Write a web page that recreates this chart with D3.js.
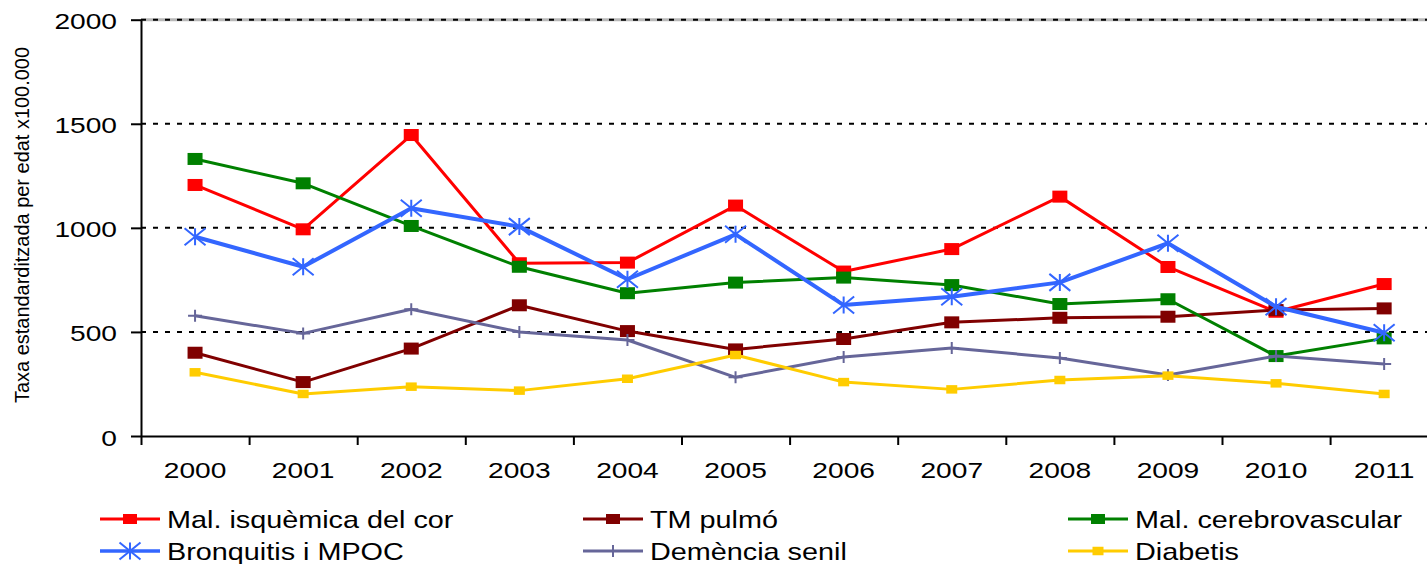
<!DOCTYPE html>
<html>
<head>
<meta charset="utf-8">
<script src="https://cdn.jsdelivr.net/npm/d3@7"></script>
<style>
  html, body { margin: 0; padding: 0; background: #fff; }
  svg { display: block; }
  text { font-family: "Liberation Sans", Arial, sans-serif; fill: #000; }
</style>
</head>
<body>
<svg id="chart" width="1427" height="564"></svg>
<script>
// Years on the category axis
const years = ["2000","2001","2002","2003","2004","2005","2006","2007","2008","2009","2010","2011"];
// Value axis ticks
const yTicks = [0, 500, 1000, 1500, 2000];

// Age-standardised rates per 100,000, one array per cause
const isquemica      = [1206, 993, 1446, 830, 833, 1107, 790, 898, 1150, 812, 597, 730];
const tmPulmo        = [400, 259, 420, 628, 504, 416, 466, 546, 568, 573, 605, 613];
const cerebrovasc    = [1331, 1214, 1009, 813, 686, 737, 761, 725, 634, 657, 384, 469];
const bronquitis     = [957, 813, 1094, 1006, 753, 969, 629, 669, 738, 926, 621, 496];
const demencia       = [578, 493, 609, 500, 461, 282, 380, 423, 375, 293, 384, 346];
const diabetis       = [306, 202, 237, 218, 275, 389, 259, 224, 269, 290, 253, 202];

const seriesNames = ["Mal. isquèmica del cor", "TM pulmó", "Mal. cerebrovascular",
                     "Bronquitis i MPOC", "Demència senil", "Diabetis"];

const series = [
  { name: seriesNames[0], values: isquemica,   color: "#ff0000", width: 3, marker: "square", mw: 15, mh: 12 },
  { name: seriesNames[1], values: tmPulmo,     color: "#800000", width: 3, marker: "square", mw: 15, mh: 12 },
  { name: seriesNames[2], values: cerebrovasc, color: "#008000", width: 3, marker: "square", mw: 15, mh: 12 },
  { name: seriesNames[3], values: bronquitis,  color: "#3366ff", width: 4, marker: "star",   mw: 21, mh: 17 },
  { name: seriesNames[4], values: demencia,    color: "#666699", width: 3, marker: "plus",   mw: 14, mh: 12 },
  { name: seriesNames[5], values: diabetis,    color: "#ffcc00", width: 3, marker: "square", mw: 11, mh: 8.5 }
];

const svg = d3.select("#chart");

const plotLeft = 141, plotTop = 19.7, plotBottom = 436, band = 108.1;
const plotRight = plotLeft + band * years.length;
const SX = 1.28; // horizontal stretch of the axis lettering

const x = d3.scaleBand().domain(years).range([plotLeft, plotRight]).padding(0);
const xEdge = d3.scaleLinear().domain([0, years.length]).range([plotLeft, plotRight]);
const y = d3.scaleLinear().domain([0, 2000]).range([plotBottom, plotTop]);

// Gridlines
const grid = svg.append("g");
grid.append("line")
  .attr("x1", plotLeft).attr("x2", 1427).attr("y1", y(2000)).attr("y2", y(2000))
  .attr("stroke", "#b8b8b8").attr("stroke-width", 3);
grid.selectAll("line.g").data(yTicks.filter(d => d > 0)).join("line")
  .attr("class", "g")
  .attr("x1", plotLeft).attr("x2", 1427)
  .attr("y1", d => y(d)).attr("y2", d => y(d))
  .attr("stroke", "#000").attr("stroke-width", 2)
  .attr("stroke-dasharray", "5,7");

// Y axis
const yAxis = svg.append("g")
  .attr("transform", `translate(${plotLeft},0)`)
  .call(d3.axisLeft(y).tickValues(yTicks).tickFormat(d3.format("d")).tickSize(10).tickSizeOuter(0));
yAxis.select(".domain").attr("stroke", "#000").attr("stroke-width", 2);
yAxis.selectAll(".tick line").attr("stroke", "#000").attr("stroke-width", 2);
yAxis.selectAll(".tick text")
  .attr("x", -24 / SX).attr("y", 9).attr("dy", null)
  .attr("transform", `scale(${SX},1)`)
  .style("font-size", "22px").style("font-family", "Liberation Sans, Arial, sans-serif")
  .attr("fill", "#000");

// X axis: labels at band centres, ticks at band edges
const xLabels = svg.append("g")
  .attr("transform", `translate(0,${plotBottom})`)
  .call(d3.axisBottom(x).tickSize(0).tickPadding(0));
xLabels.select(".domain").remove();
xLabels.selectAll(".tick text")
  .attr("y", 42).attr("dy", null).attr("x", 0)
  .attr("transform", `scale(${SX},1)`)
  .style("font-size", "22px").style("font-family", "Liberation Sans, Arial, sans-serif")
  .attr("fill", "#000");

const xTicks = svg.append("g")
  .attr("transform", `translate(0,${plotBottom})`)
  .call(d3.axisBottom(xEdge).tickValues(d3.range(0, years.length + 1)).tickFormat("").tickSize(9).tickSizeOuter(0));
xTicks.select(".domain").attr("stroke", "#000").attr("stroke-width", 2);
xTicks.selectAll(".tick line").attr("stroke", "#000").attr("stroke-width", 2);

// Axis title
svg.append("text")
  .attr("transform", `translate(29,225) rotate(-90)`)
  .attr("text-anchor", "middle")
  .attr("textLength", 356).attr("lengthAdjust", "spacingAndGlyphs")
  .style("font-size", "20px")
  .text("Taxa estandarditzada per edat x100.000");

// Marker drawing
function drawMarker(g, s, cx, cy) {
  const w = s.mw, h = s.mh;
  if (s.marker === "square") {
    g.append("rect").attr("x", cx - w / 2).attr("y", cy - h / 2)
      .attr("width", w).attr("height", h).attr("fill", s.color);
  } else if (s.marker === "star") {
    const p = d3.path();
    p.moveTo(cx - w / 2, cy - h / 2); p.lineTo(cx + w / 2, cy + h / 2);
    p.moveTo(cx - w / 2, cy + h / 2); p.lineTo(cx + w / 2, cy - h / 2);
    p.moveTo(cx, cy - h / 2); p.lineTo(cx, cy + h / 2);
    g.append("path").attr("d", p.toString()).attr("stroke", s.color)
      .attr("stroke-width", 2).attr("fill", "none");
  } else if (s.marker === "plus") {
    const p = d3.path();
    p.moveTo(cx - w / 2, cy); p.lineTo(cx + w / 2, cy);
    p.moveTo(cx, cy - h / 2); p.lineTo(cx, cy + h / 2);
    g.append("path").attr("d", p.toString()).attr("stroke", s.color)
      .attr("stroke-width", 2).attr("fill", "none");
  }
}

// Lines and markers
const line = d3.line()
  .x((d, i) => x(years[i]) + x.bandwidth() / 2)
  .y(d => y(d));

series.forEach(s => {
  const g = svg.append("g");
  g.append("path").datum(s.values)
    .attr("d", line).attr("fill", "none")
    .attr("stroke", s.color).attr("stroke-width", s.width)
    .attr("stroke-linejoin", "round");
  s.values.forEach((v, i) => drawMarker(g, s, x(years[i]) + x.bandwidth() / 2, y(v)));
});

// Legend: three columns, two rows
const legCols = [100, 583, 1068];
const legRows = [519, 551];
series.forEach((s, i) => {
  const lx = legCols[i % 3], ly = legRows[Math.floor(i / 3)];
  const g = svg.append("g");
  g.append("line").attr("x1", lx).attr("x2", lx + 60).attr("y1", ly).attr("y2", ly)
    .attr("stroke", s.color).attr("stroke-width", s.width === 4 ? 3.5 : 3);
  const ls = Object.assign({}, s);
  if (s.marker === "square" && s.mw > 12) { ls.mw = 14; ls.mh = 10; }
  drawMarker(g, ls, lx + 30, ly);
  g.append("text")
    .attr("transform", `translate(${lx + 67},${ly + 9}) scale(1.2,1)`)
    .style("font-size", "24px")
    .text(s.name);
});
</script>
</body>
</html>
